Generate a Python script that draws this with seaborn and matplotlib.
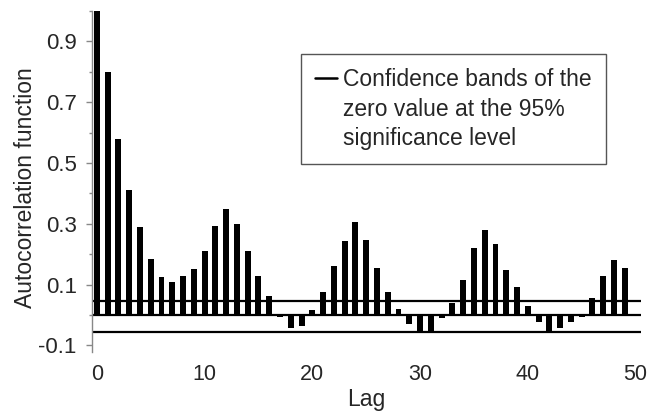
import matplotlib
matplotlib.use("Agg")
import matplotlib.pyplot as plt
import seaborn as sns
from matplotlib.lines import Line2D
from matplotlib.ticker import FixedLocator

lags = list(range(50))
acf = [1.00, 0.80, 0.58, 0.41, 0.29, 0.185, 0.124, 0.109, 0.128, 0.152,
       0.212, 0.292, 0.349, 0.298, 0.211, 0.130, 0.062, -0.005, -0.044, -0.036,
       0.018, 0.075, 0.160, 0.245, 0.305, 0.248, 0.155, 0.075, 0.020, -0.031,
       -0.060, -0.053, -0.010, 0.040, 0.115, 0.222, 0.280, 0.232, 0.148, 0.091,
       0.030, -0.022, -0.055, -0.044, -0.022, -0.005, 0.055, 0.127, 0.180, 0.155]
conf_upper = 0.047
conf_lower = -0.055
x_ticks = [0, 10, 20, 30, 40, 50]
y_major = [-0.1, 0.1, 0.3, 0.5, 0.7, 0.9]
y_minor = [0.0, 0.2, 0.4, 0.6, 0.8, 1.0]
legend_lines = ["Confidence bands of the", "zero value at the 95%", "significance level"]

sns.set_style("ticks")
plt.rcParams['font.family'] = ['Liberation Sans', 'DejaVu Sans']

fig = plt.figure(figsize=(6.52, 4.12), dpi=100)
ax = fig.add_axes([0.1411, 0.1468, 0.8419, 0.8265])

sns.barplot(x=lags, y=acf, native_scale=True, width=0.55, color='black',
            saturation=1, errorbar=None, ax=ax, edgecolor='none')

ax.axhline(0, color='black', lw=1.6)
ax.axhline(conf_upper, color='black', lw=1.6)
ax.axhline(conf_lower, color='black', lw=1.6)

ax.set_xlim(-0.45, 50.5)
ax.set_ylim(-0.12, 1.0)
ax.set_xticks(x_ticks)
ax.set_xticklabels([str(t) for t in x_ticks])
ax.yaxis.set_major_locator(FixedLocator(y_major))
ax.set_yticklabels([f"{v:.1f}" for v in y_major])
ax.yaxis.set_minor_locator(FixedLocator(y_minor))

for s in ['top', 'right', 'bottom']:
    ax.spines[s].set_visible(False)
ax.spines['left'].set_color('#888888')
ax.spines['left'].set_linewidth(1.0)

ax.tick_params(axis='x', length=0, pad=9, labelsize=15.5)
ax.tick_params(axis='y', which='major', length=4, width=1, color='#888888', pad=7, labelsize=16)
ax.tick_params(axis='y', which='minor', length=2.5, width=1, color='#888888')

ax.set_xlabel("Lag", fontsize=16.5, labelpad=2)
ax.set_ylabel("Autocorrelation function", fontsize=16.5)
ax.yaxis.set_label_coords(-0.100, 0.48)

handles = [Line2D([], [], color='black', lw=1.8)] + [Line2D([], [], color='none')] * 2
leg = ax.legend(handles, legend_lines, loc='upper left', bbox_to_anchor=(0.381, 0.8737),
                frameon=True, fancybox=False, edgecolor='#555555', framealpha=1,
                fontsize=16.5, handlelength=0.95, handletextpad=0.25, labelspacing=0.28,
                borderpad=0.62, borderaxespad=0)
leg.get_frame().set_linewidth(1.0)

fig.savefig("out.png", dpi=100)
